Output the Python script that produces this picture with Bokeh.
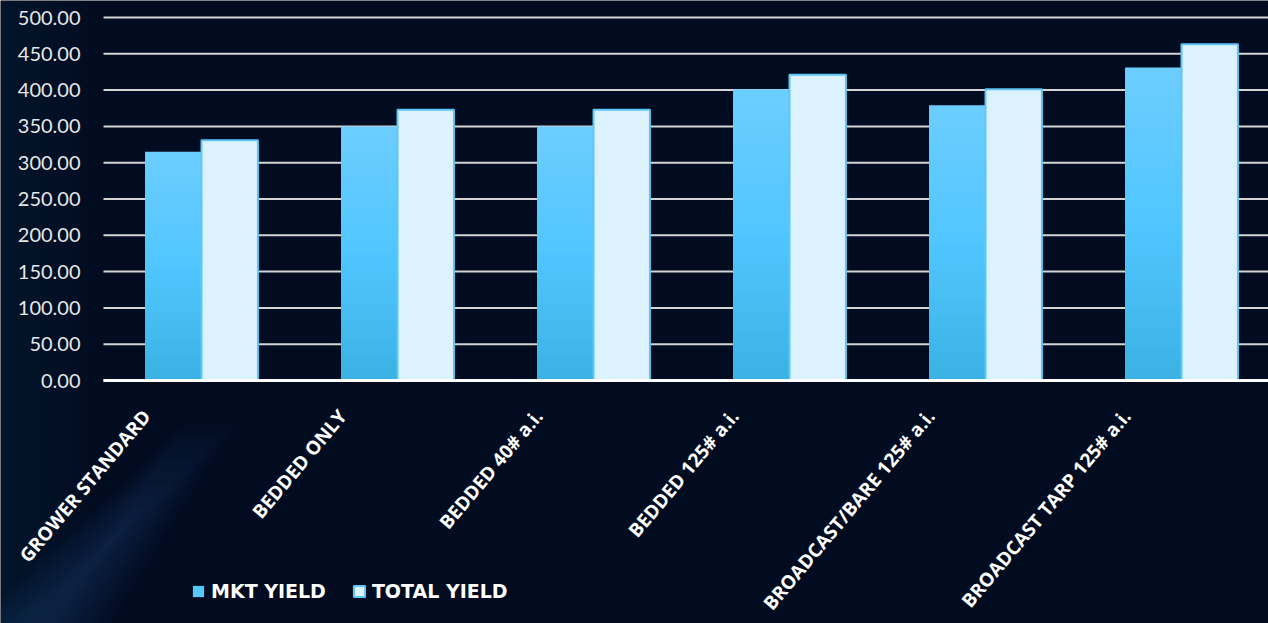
import math
from bokeh.plotting import figure
from bokeh.models import Legend, LegendItem, Range1d, ColumnDataSource
from bokeh.core.properties import value
from bokeh.embed import file_html
from bokeh.resources import INLINE

categories = ["GROWER STANDARD", "BEDDED ONLY", "BEDDED 40# a.i.",
              "BEDDED 125# a.i.", "BROADCAST/BARE 125# a.i.",
              "BROADCAST TARP 125# a.i."]
mkt_yield = [315, 350, 350, 401, 379, 431]
total_yield = [331, 373, 373, 421, 401, 463]
y_ticks = [0, 50, 100, 150, 200, 250, 300, 350, 400, 450, 500]
y_tick_labels = ["%.2f" % t for t in y_ticks]

W, H = 1268, 623
LEFT, TOP, ZERO_Y = 103, 17, 380
GROUP_PX = 196
px_per_unit = (ZERO_Y - TOP) / 500.0
X_END = (W - LEFT) / GROUP_PX


def sx(px):  # screen px -> data x
    return (px - LEFT) / GROUP_PX


def sy(py):  # screen px -> data y
    return (ZERO_Y - py) / px_per_unit


BG = "#020c20"
centers = [i + 0.5 for i in range(len(categories))]
bw = 0.288
off = 0.144

p = figure(width=W, height=H, output_backend="svg", toolbar_location=None,
           x_range=Range1d(sx(0), sx(W)), y_range=Range1d(sy(H), sy(0)),
           x_axis_location=None, y_axis_location=None,
           background_fill_color=BG, border_fill_color=BG,
           min_border_left=0, min_border_right=0, min_border_top=0,
           min_border_bottom=0)
p.outline_line_color = None
p.grid.visible = False

# soft light streak in the lower-left of the background (layered, faint)
ax, ay = 40.0, 623.0
dx, dy = 170.0, -200.0
for i in range(10):
    w = 70.0 * (1 - i / 10.0)
    L = 1.0 - i * 0.06
    bx, by = ax + dx * L, ay + dy * L
    xs = [ax - w, ax + w, bx + w * 0.35, bx - w * 0.35]
    ys = [ay, ay, by, by]
    p.patch(x=[sx(v) for v in xs], y=[sy(v) for v in ys],
            fill_color="#4a82c2", fill_alpha=0.022, line_color=None)
for i in range(8):
    w = 90.0 * (1 - i / 8.0)
    p.patch(x=[sx(v) for v in [0, w, w, 0]],
            y=[sy(v) for v in [H, H, 0, 0]],
            fill_color="#1c3c6a", fill_alpha=0.03, line_color=None)


def hex_to_rgb(h):
    h = h.lstrip("#")
    return tuple(int(h[i:i + 2], 16) for i in (0, 2, 4))


def lerp(c1, c2, t):
    a, b = hex_to_rgb(c1), hex_to_rgb(c2)
    return "#%02x%02x%02x" % tuple(int(round(a[i] + (b[i] - a[i]) * t)) for i in range(3))


def grad(t):
    if t < 0.5:
        return lerp("#3bb2e3", "#50c6ff", t / 0.5)
    return lerp("#50c6ff", "#6dcdff", (t - 0.5) / 0.5)


# horizontal grid lines
p.segment(x0=[0] * len(y_ticks), x1=[X_END] * len(y_ticks), y0=y_ticks, y1=y_ticks,
          line_color="#d4d4d4", line_width=2)

N = 30
legend_mkt = None
for k in range(N - 1, -1, -1):
    frac = (k + 1) / N
    src = ColumnDataSource(dict(x=[c - off for c in centers],
                                top=[v * frac for v in mkt_yield]))
    r = p.vbar(x="x", top="top", bottom=0, width=bw, source=src,
               fill_color=grad((k + 0.5) / N), line_color=None)
    if k == int(N * 0.6):
        legend_mkt = r

src_t = ColumnDataSource(dict(x=[c + off for c in centers], top=total_yield))
r_total = p.vbar(x="x", top="top", bottom=0, width=bw, source=src_t,
                 fill_color="#ddf2ff", line_color="#5ec6f6", line_width=2)

# category axis line
p.segment(x0=[0], x1=[X_END], y0=[0], y1=[0], line_color="#ffffff", line_width=3)

# y tick labels
p.text(x=[sx(LEFT - 23)] * len(y_ticks), y=y_ticks, text=y_tick_labels,
       text_align="right", text_baseline="middle", text_color="#e6e6e6",
       text_font=value("Lato"), text_font_size="20px")

# category labels, rotated
lab_src = ColumnDataSource(dict(
    x=[c - 55 / GROUP_PX for c in centers],
    y=[-32 / px_per_unit] * len(categories),
    text=categories))
p.text(x="x", y="y", text="text", source=lab_src, angle=math.radians(50),
       text_align="right", text_baseline="middle", text_color="#ffffff",
       text_font=value("Open Sans"), text_font_style="bold",
       text_font_size="19px")

legend = Legend(items=[LegendItem(label="MKT YIELD", renderers=[legend_mkt]),
                       LegendItem(label="TOTAL YIELD", renderers=[r_total])],
                orientation="horizontal", location=(187, 17),
                background_fill_alpha=0, border_line_alpha=0,
                label_text_color="#ffffff", label_text_font="DejaVu Sans",
                label_text_font_style="bold", label_text_font_size="19px",
                glyph_width=14, glyph_height=14, label_standoff=6, spacing=26,
                padding=4, margin=0)
p.add_layout(legend, "center")

open("out.html", "w").write(file_html(p, INLINE))
